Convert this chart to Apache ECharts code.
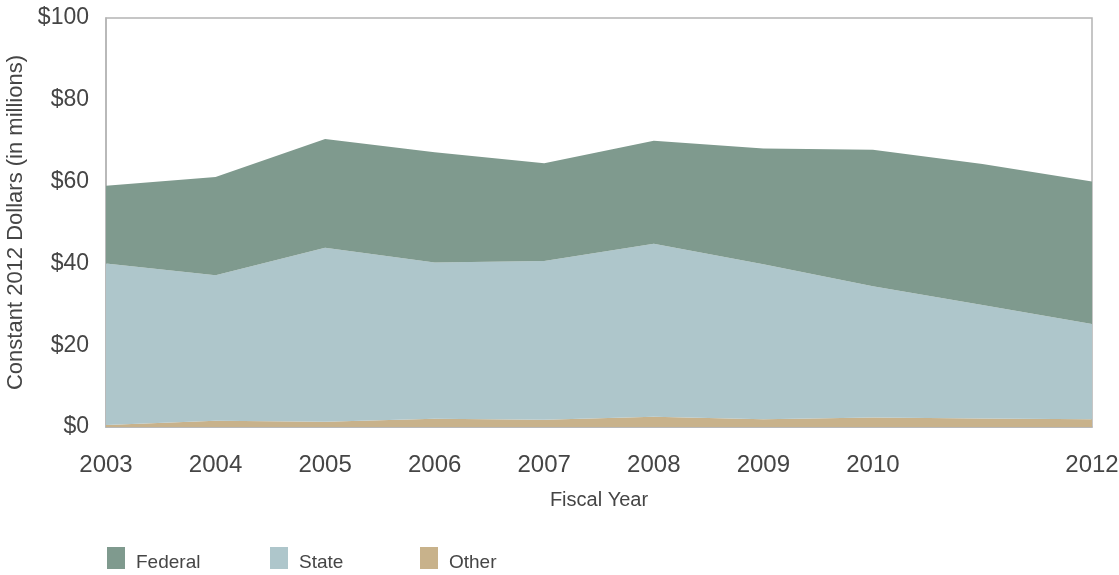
<!DOCTYPE html>
<html>
<head>
<meta charset="utf-8">
<script src="https://cdn.jsdelivr.net/npm/echarts@6/dist/echarts.min.js"></script>
<style>
html,body{margin:0;padding:0;background:#fff;}
#chart{width:1119px;height:575px;}
</style>
</head>
<body>
<div id="chart"></div>
<script>
var years = ['2003','2004','2005','2006','2007','2008','2009','2010','2011','2012'];
var hiddenYearLabels = ['2011'];
var otherValues   = [0.5, 1.5, 1.3, 2.0, 1.8, 2.5, 1.9, 2.3, 2.1, 1.9];
var stateValues   = [39.5, 35.6, 42.5, 38.2, 38.8, 42.3, 37.9, 32.1, 27.7, 23.3];
var federalValues = [19.0, 24.0, 26.6, 27.0, 23.9, 25.2, 28.3, 33.4, 34.5, 34.8];
var yTicks = [0, 20, 40, 60, 80, 100];

var textColor = '#454545';
var borderGray = '#b4b4b4';
var colors = { Federal: '#7f9a8e', State: '#aec6cb', Other: '#c8b28b' };
var font = 'Liberation Sans';

function areaSeries(name, data) {
  return {
    name: name, type: 'line', stack: 'total', data: data,
    symbol: 'none', smooth: false,
    lineStyle: { width: 0 },
    areaStyle: { color: colors[name], opacity: 1 },
    itemStyle: { color: colors[name] },
    emphasis: { disabled: true }
  };
}

function legendAt(name, left) {
  return {
    data: [name], left: left, top: 547, orient: 'horizontal', padding: 0,
    icon: 'rect', itemWidth: 18, itemHeight: 22,
    selectedMode: false,
    formatter: function (n) { return '{t|' + n + '}'; },
    textStyle: {
      fontFamily: font, fontSize: 19, color: textColor,
      rich: { t: { fontFamily: font, fontSize: 19, color: textColor, padding: [10, 0, 0, 6] } }
    }
  };
}

var chart = echarts.init(document.getElementById('chart'), null, { renderer: 'canvas' });
chart.setOption({
  animation: false,
  backgroundColor: '#ffffff',
  grid: { left: 106, right: 27, top: 18, bottom: 148, outerBoundsMode: 'none', containLabel: false,
          show: true, borderColor: borderGray, borderWidth: 1.5, backgroundColor: 'transparent' },
  legend: [legendAt('Federal', 107), legendAt('State', 270), legendAt('Other', 420)],
  xAxis: {
    type: 'category', data: years, boundaryGap: false,
    name: 'Fiscal Year', nameLocation: 'middle', nameGap: 63,
    nameTextStyle: { fontFamily: font, fontSize: 20, color: textColor },
    axisLine: { show: true, lineStyle: { color: borderGray, width: 1.5 } },
    axisTick: { show: false },
    axisLabel: {
      interval: function (i, v) { return hiddenYearLabels.indexOf(v) < 0; },
      margin: 26, fontFamily: font, fontSize: 24, color: textColor
    },
    splitLine: { show: false }
  },
  yAxis: {
    type: 'value', min: yTicks[0], max: yTicks[yTicks.length - 1], interval: 20,
    name: 'Constant 2012 Dollars (in millions)', nameLocation: 'middle', nameGap: 70, nameRotate: 90,
    nameTextStyle: { fontFamily: font, fontSize: 22, color: textColor },
    axisLine: { show: true, lineStyle: { color: borderGray, width: 1.5 } },
    axisTick: { show: false },
    axisLabel: {
      margin: 17, fontFamily: font, fontSize: 23, color: textColor,
      formatter: function (v) { return '$' + v; }
    },
    splitLine: { show: false }
  },
  series: [
    areaSeries('Other', otherValues),
    areaSeries('State', stateValues),
    areaSeries('Federal', federalValues)
  ]
});
</script>
</body>
</html>
